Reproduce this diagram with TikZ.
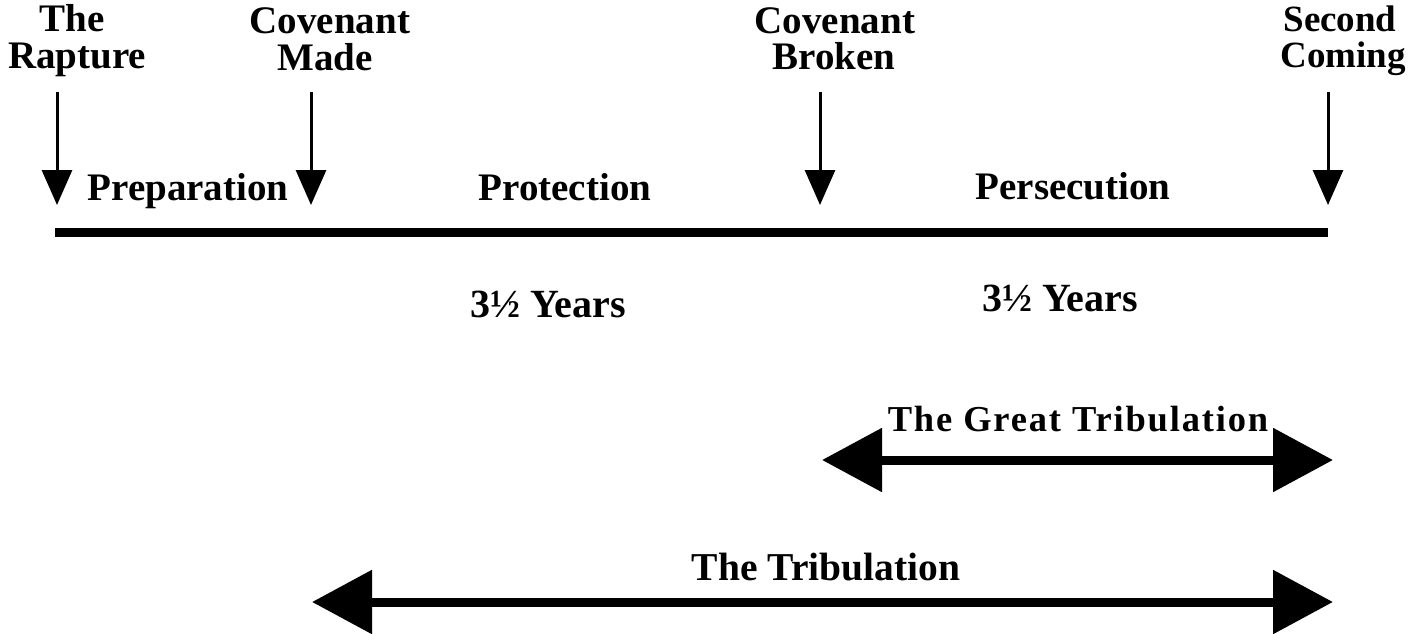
\documentclass[tikz,border=0pt]{standalone}
\usepackage{fontspec}
\setmainfont{Liberation Serif}
\newfontfamily\spaced[LetterSpace=5]{Liberation Serif}
\usetikzlibrary{arrows.meta}
\begin{document}
\begin{tikzpicture}[x=1pt,y=-1pt,
  lbl/.style={inner sep=0pt,anchor=base,font=\bfseries\fontsize{39}{44}\selectfont},
  down/.style={line width=3pt,-{Triangle[length=35pt,width=30pt]}},
  span/.style={line width=9pt,{Triangle[length=60pt,width=62pt]}-{Triangle[length=60pt,width=62pt]}}]
\useasboundingbox (0,0) rectangle (1410,633);
% top labels
\node[lbl] (t1a) at (72,31) {The};
\node[lbl] (t1b) at (77,68) {Rapture};
\node[lbl] (t2a) at (330,33) {Covenant};
\node[lbl] (t2b) at (325,70) {Made};
\node[lbl] (t3a) at (835,33) {Covenant};
\node[lbl] (t3b) at (834,69) {Broken};
\node[lbl,font=\bfseries\fontsize{37}{42}\selectfont] (t4a) at (1340,31) {Second};
\node[lbl,font=\bfseries\fontsize{37}{42}\selectfont] (t4b) at (1343,67) {Coming};
% down arrows
\coordinate (a1s) at (57,92);  \coordinate (a1e) at (57,205);
\coordinate (a2s) at (311,92); \coordinate (a2e) at (311,205);
\coordinate (a3s) at (820,92); \coordinate (a3e) at (820,205);
\coordinate (a4s) at (1328,92);\coordinate (a4e) at (1328,205);
\draw[down] (a1s) -- (a1e);
\draw[down] (a2s) -- (a2e);
\draw[down] (a3s) -- (a3e);
\draw[down] (a4s) -- (a4e);
% timeline
\coordinate (l1) at (55,232); \coordinate (l2) at (1328,232);
\draw[line width=9pt] (l1) -- (l2);
% segment labels
\node[lbl] (p1) at (188,200) {Preparation};
\node[lbl] (p2) at (565,200) {Protection};
\node[lbl] (p3) at (1073,199) {Persecution};
\node[lbl,font=\bfseries\fontsize{40}{44}\selectfont] (y1) at (548,317) {3½ Years};
\node[lbl,font=\bfseries\fontsize{40}{44}\selectfont] (y2) at (1060,311) {3½ Years};
% great tribulation
\node[lbl,font=\spaced\bfseries\fontsize{36.5}{42}\selectfont] (gt) at (1078,431) {The Great Tribulation};
\coordinate (g1) at (822,460); \coordinate (g2) at (1333,460);
\draw[span] (g1) -- (g2);
% tribulation
\node[lbl,font=\bfseries\fontsize{39.5}{44}\selectfont] (tr) at (826,580) {The Tribulation};
\coordinate (r1) at (312,602); \coordinate (r2) at (1333,602);
\draw[span] (r1) -- (r2);
\end{tikzpicture}
\end{document}
